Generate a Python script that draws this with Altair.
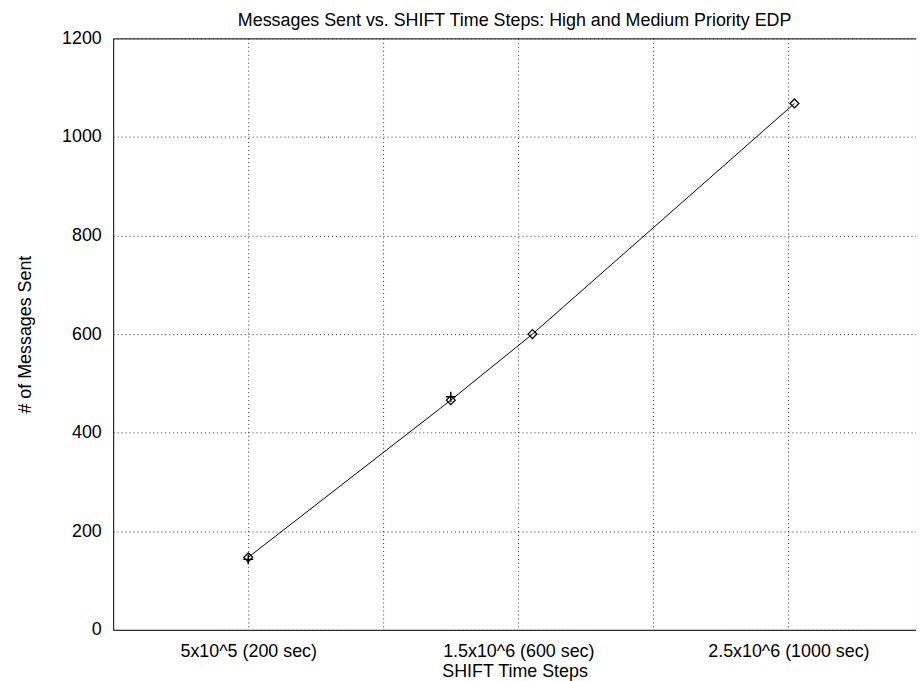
import altair as alt
import pandas as pd

# Data (x in seconds of SHIFT time, y = # messages)
diamond_sec = [200, 500, 621, 1009]
diamond_msgs = [147, 466, 600, 1068]
cross_sec = [200, 500]
cross_msgs = [143, 473]

x_tick_values = [200, 400, 600, 800, 1000]
x_tick_labels = ["5x10^5 (200 sec)", "", "1.5x10^6 (600 sec)", "", "2.5x10^6 (1000 sec)"]
y_tick_values = [0, 200, 400, 600, 800, 1000, 1200]

df_d = pd.DataFrame({"sec": diamond_sec, "msgs": diamond_msgs})
df_c = pd.DataFrame({"sec": cross_sec, "msgs": cross_msgs})

label_dict = "{" + ", ".join(f"'{v}': '{l}'" for v, l in zip(x_tick_values, x_tick_labels)) + "}"
label_expr = f"{label_dict}[datum.value]"

FONT = "Liberation Sans"
FS = 18

x_enc = alt.X(
    "sec:Q",
    scale=alt.Scale(domain=[0, 1189], nice=False, zero=False),
    axis=alt.Axis(
        values=x_tick_values,
        labelExpr=label_expr,
        title="SHIFT Time Steps",
        grid=True,
        gridDash=[1, 3],
        gridColor="#333333",
        tickSize=0,
        domain=False,
        labelPadding=13,
        titlePadding=2,
        labelFont=FONT,
        labelFontSize=FS,
        labelColor="black",
        titleFont=FONT,
        titleFontSize=FS,
        titleFontWeight="normal",
        titleColor="black",
        labelFlush=False,
        labelOverlap=False,
    ),
)
y_enc = alt.Y(
    "msgs:Q",
    scale=alt.Scale(domain=[0, 1200], nice=False),
    axis=alt.Axis(
        values=y_tick_values,
        format="d",
        title="# of Messages Sent",
        grid=True,
        gridDash=[1, 3],
        gridColor="#333333",
        tickSize=0,
        domain=False,
        labelPadding=12,
        titlePadding=27,
        labelFont=FONT,
        labelFontSize=FS,
        labelColor="black",
        titleFont=FONT,
        titleFontSize=FS,
        titleFontWeight="normal",
        titleColor="black",
        labelFlush=False,
        labelOverlap=False,
    ),
)

line = alt.Chart(df_d).mark_line(color="black", strokeWidth=1).encode(x=x_enc, y=y_enc)
diamonds = alt.Chart(df_d).mark_point(
    shape="diamond", size=80, filled=False, color="black", strokeWidth=1.3, opacity=1
).encode(x="sec:Q", y="msgs:Q")
crosses = alt.Chart(df_c).mark_point(
    shape="M-1,0H1M0,-1V1", size=100, filled=False, color="black", strokeWidth=1.4, opacity=1
).encode(x="sec:Q", y="msgs:Q")

chart = (
    alt.layer(line, diamonds, crosses)
    .properties(
        width=809,
        height=596,
        title=alt.TitleParams(
            "Messages Sent vs. SHIFT Time Steps: High and Medium Priority EDP",
            font=FONT,
            fontSize=FS,
            fontWeight="normal",
            color="black",
            offset=-1,
        ),
        autosize=alt.AutoSizeParams(type="none"),
        padding={"left": 106, "top": 28, "right": 0, "bottom": 55},
        background="white",
    )
    .configure_view(stroke="black", strokeWidth=1)
)

chart.save("out.html", embed_options={"renderer": "svg", "actions": False})
